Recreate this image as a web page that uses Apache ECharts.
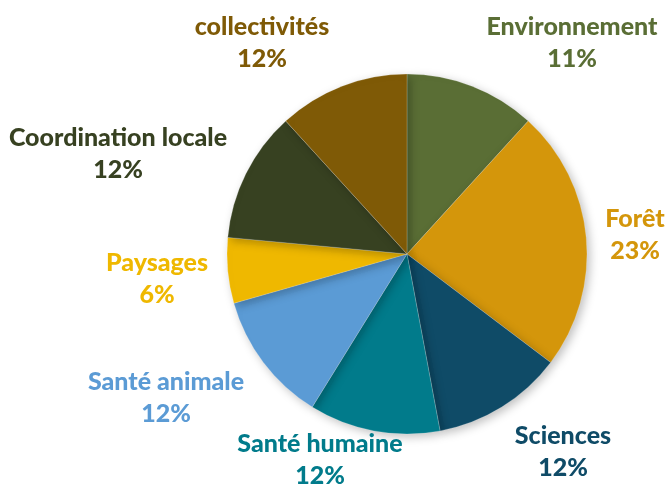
<!DOCTYPE html>
<html><head><meta charset="utf-8">
<script src="https://cdn.jsdelivr.net/npm/echarts@6/dist/echarts.min.js"></script>
<style>html,body{margin:0;padding:0;background:#fff}#c{width:667px;height:486px}</style>
</head><body><div id="c"></div>
<script>
const categories = ['Environnement','Forêt','Sciences','Santé humaine','Santé animale','Paysages','Coordination locale','collectivités'];
const values = [2, 4, 2, 2, 2, 1, 2, 2];
const pctLabels = ['11%','23%','12%','12%','12%','6%','12%','12%'];
const colors = ['#5a6e35','#d4960b','#0f4b67','#017b8b','#5b9bd5','#efb800','#374121','#7f5a06'];
const labelPos = [[572,43],[635,235],[563,452],[320,460],[166,398],[157,279],[118,154],[262,43]];

const chart = echarts.init(document.getElementById('c'));
chart.setOption({
  animation:false,
  series:[{
    type:'pie',
    center:[407,254],
    radius:180,
    startAngle:90,
    clockwise:true,
    data: categories.map((n,i)=>({name:n,value:values[i],itemStyle:{color:colors[i]},label:{color:colors[i]}})),
    itemStyle:{borderColor:'rgba(255,255,255,0.4)',borderWidth:0.5,shadowBlur:10,shadowColor:'rgba(0,0,0,0.25)',shadowOffsetX:3,shadowOffsetY:3},
    label:{
      show:true,position:'outside',overflow:'none',
      formatter:p=>p.name+'\n'+pctLabels[p.dataIndex],
      fontFamily:'Lato',fontWeight:900,fontSize:25,lineHeight:32,align:'center'
    },
    labelLine:{show:false},
    labelLayout:p=>({x:labelPos[p.dataIndex][0],y:labelPos[p.dataIndex][1],align:'center',verticalAlign:'middle'})
  }]
});
</script></body></html>
